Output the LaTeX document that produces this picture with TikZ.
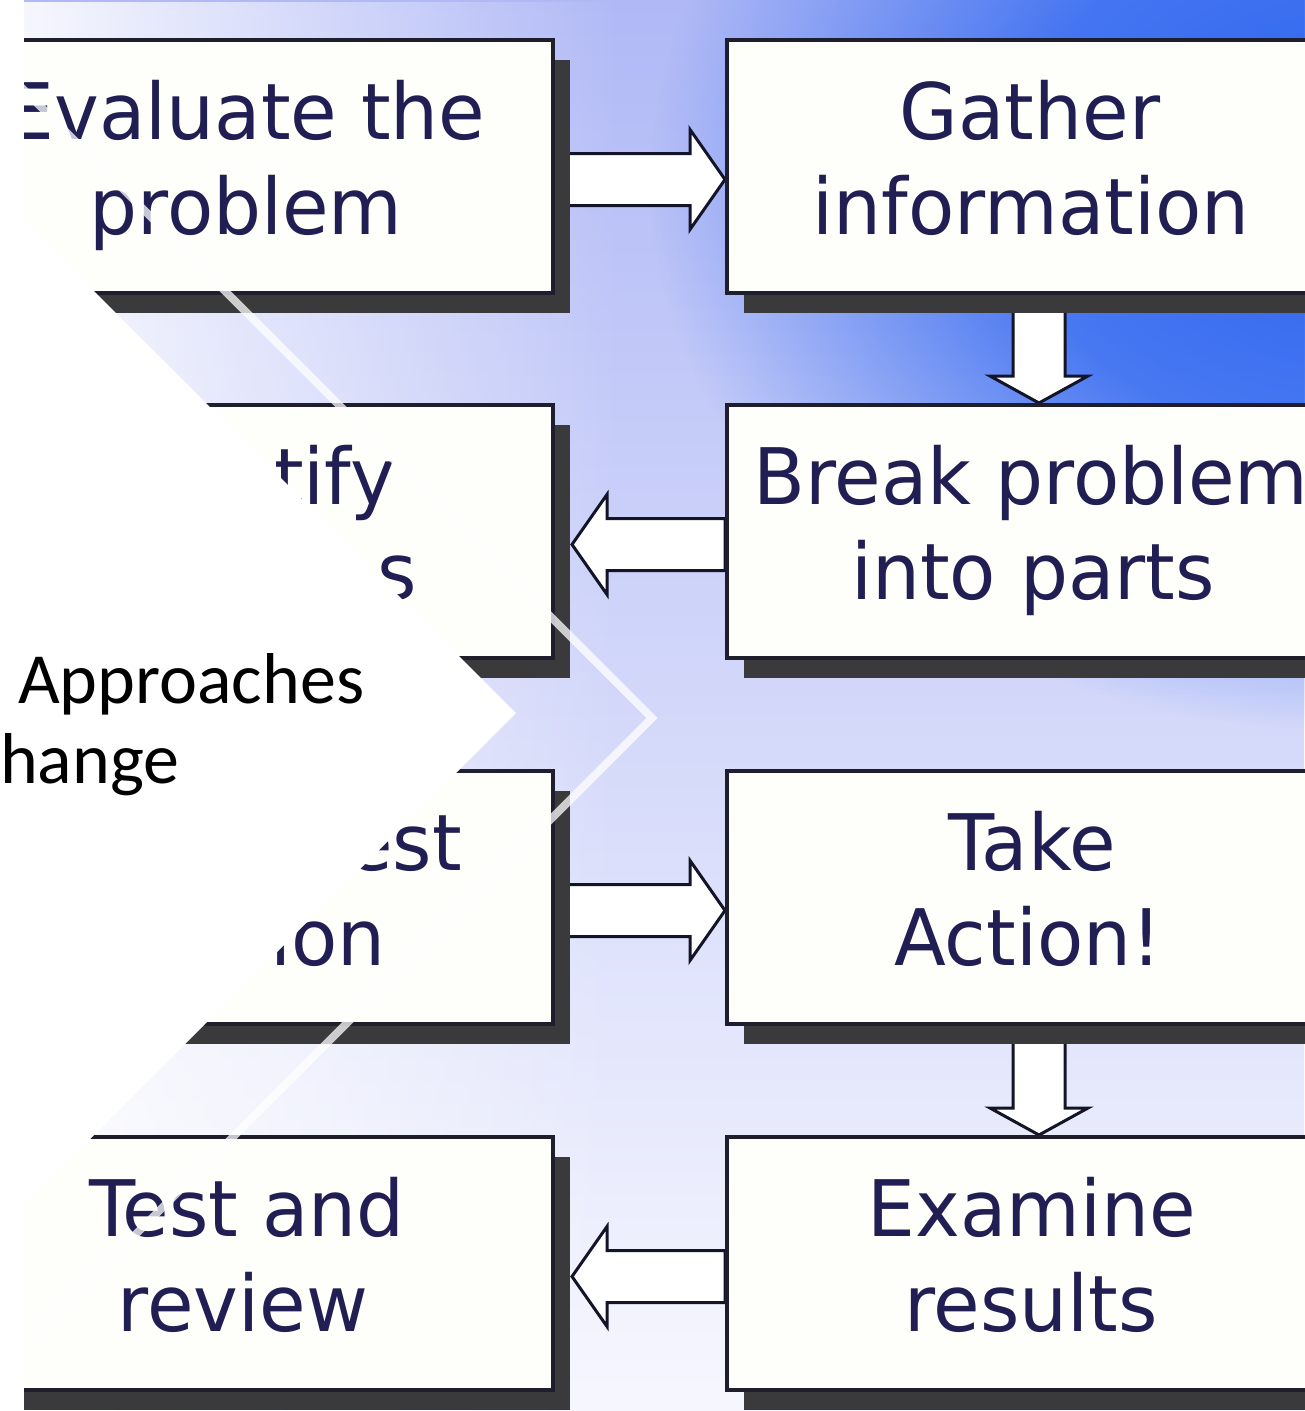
\documentclass[tikz,border=0pt]{standalone}
\usepackage{fontspec}
\usetikzlibrary{calc,fadings,shadows}
\newfontfamily\boxfont[FakeStretch=0.97]{DejaVu Sans}
\newfontfamily\chevfont{Carlito}
\definecolor{bgtop}{HTML}{B0B9F6}
\definecolor{bgmid}{HTML}{BCC4F7}
\definecolor{bgbot}{HTML}{F6F7FE}
\definecolor{blobblue}{HTML}{2A64F0}
\definecolor{boxline}{HTML}{1E1E2C}
\definecolor{shadowgray}{HTML}{3A3A3C}
\definecolor{boxfill}{HTML}{FEFEFB}
\definecolor{txt}{HTML}{201E52}
\definecolor{arrline}{HTML}{141428}
\pgfdeclarelayer{back}
\pgfdeclarelayer{arrows}
\pgfdeclarelayer{front}
\pgfsetlayers{back,arrows,main,front}
\pgfdeclareradialshading{blobshade}{\pgfpoint{0bp}{0bp}}{color(0bp)=(white); color(12bp)=(black!20); color(25bp)=(black); color(50bp)=(black)}
\pgfdeclarefading{blobfade}{\pgfuseshading{blobshade}}
\tikzfading[name=leftfade, left color=transparent!0, right color=transparent!100]
\tikzset{
  stepbox/.style={draw=boxline, line width=4pt, fill=boxfill, minimum width=606pt,
    minimum height=253pt, inner sep=0pt,
    drop shadow={shadow xshift=17pt, shadow yshift=-20pt, fill=shadowgray, opacity=1}},
  boxtext/.style={font=\boxfont\fontsize{78pt}{94pt}\selectfont, text=txt, inner sep=0pt, anchor=base},
  chevtext/.style={font=\chevfont\fontsize{72pt}{86pt}\selectfont, text=black, inner sep=0pt, anchor=base west},
  arrowbase/.style={draw=arrline, line width=3pt, fill=white, line join=miter},
  harrowR/.style={arrowbase, to path={let \p1=(\tikztostart), \p2=(\tikztotarget) in
    (\x1,\y1+13pt) -- (\x2-35pt,\y1+13pt) -- (\x2-35pt,\y1+37pt) -- (\x2,\y1-13pt)
    -- (\x2-35pt,\y1-63pt) -- (\x2-35pt,\y1-39pt) -- (\x1,\y1-39pt) -- cycle}},
  harrowL/.style={arrowbase, to path={let \p1=(\tikztostart), \p2=(\tikztotarget) in
    (\x1,\y1+13pt) -- (\x2+52pt,\y1+13pt) -- (\x2+52pt,\y1+37pt) -- (\x2+17pt,\y1-13pt)
    -- (\x2+52pt,\y1-63pt) -- (\x2+52pt,\y1-39pt) -- (\x1,\y1-39pt) -- cycle}},
  varrow/.style={arrowbase, to path={let \p1=(\tikztostart), \p2=(\tikztotarget) in
    (\x1-17pt,\y1) -- (\x1-17pt,\y2+27pt) -- (\x1-40pt,\y2+27pt) -- (\x1+9pt,\y2)
    -- (\x1+58pt,\y2+27pt) -- (\x1+35pt,\y2+27pt) -- (\x1+35pt,\y1) -- cycle}},
}
\begin{document}
\begin{tikzpicture}[x=1pt,y=-1pt]
\useasboundingbox (0,0) rectangle (1304,1411);
% background
\begin{pgfonlayer}{back}
  \shade[top color=bgtop, middle color=bgmid, bottom color=bgbot] (0,0) rectangle (1304,1411);
  \fill[white, path fading=leftfade] (-50,0) rectangle (620,1411);
  \fill[blobblue, path fading=blobfade] (1350,180) ellipse [x radius=700pt, y radius=550pt];
\end{pgfonlayer}
% boxes
\node[stepbox] (b1) at (250,166.5) {};
\node[stepbox] (b2) at (1030,166.5) {};
\node[stepbox] (b3) at (1030,531.5) {};
\node[stepbox] (b4) at (250,531.5) {};
\node[stepbox] (b5) at (250,897.5) {};
\node[stepbox] (b6) at (1030,897.5) {};
\node[stepbox] (b7) at (1030,1263.5) {};
\node[stepbox] (b8) at (250,1263.5) {};
% texts
\node[boxtext] (t1a) at (246,139) {Evaluate the};
\node[boxtext] (t1b) at (246,234) {problem};
\node[boxtext] (t2a) at (1030,139) {Gather};
\node[boxtext] (t2b) at (1031,234) {information};
\node[boxtext] (t3a) at (1031,504) {Break problem};
\node[boxtext] (t3b) at (1033,599) {into parts};
\node[boxtext, anchor=base west] (t4a) at (274,504) {tify};
\node[boxtext, anchor=base west] (t4b) at (377,599) {s};
\node[boxtext, anchor=base east] (t5a) at (462,870) {est};
\node[boxtext, anchor=base west] (t5b) at (270,965) {ion};
\node[boxtext] (t6a) at (1032,870) {Take};
\node[boxtext] (t6b) at (1028,965) {Action!};
\node[boxtext] (t7a) at (1032,1236) {Examine};
\node[boxtext] (t7b) at (1031,1331) {results};
\node[boxtext] (t8a) at (247,1236) {Test and};
\node[boxtext] (t8b) at (243,1331) {review};
% connectors
\begin{pgfonlayer}{arrows}
  \draw[harrowR] (b1.east) to (b2.west);
  \draw[varrow] (b2.south) to (b3.north);
  \draw[harrowL] (b3.west) to (b4.east);
  \draw[harrowR] (b5.east) to (b6.west);
  \draw[varrow] (b6.south) to (b7.north);
  \draw[harrowL] (b7.west) to (b8.east);
\end{pgfonlayer}
% chevron overlay
\begin{pgfonlayer}{front}
  \fill[white] (-5,-5) rectangle (24,1420);
  \fill[white] (-30,167) -- (516,713) -- (-30,1259) -- cycle;
  \draw[white, opacity=0.75, line width=8pt, line join=miter] (-40,26) -- (652,718) -- (-40,1410);
  \node[chevtext] (ap) at (18,703) {Approaches};
  \node[chevtext] (ch) at (0,783) {hange};
\end{pgfonlayer}
\end{tikzpicture}
\end{document}
